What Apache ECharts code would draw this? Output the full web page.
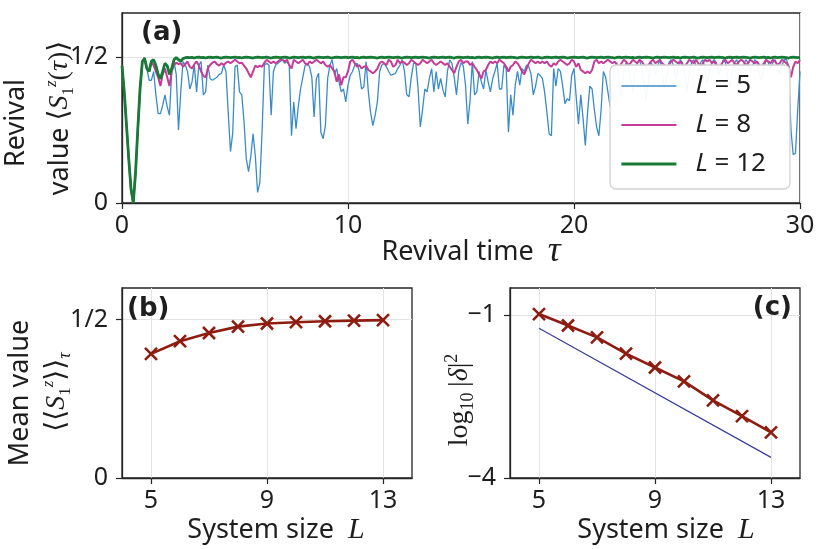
<!DOCTYPE html>
<html><head><meta charset="utf-8">
<script src="https://cdn.jsdelivr.net/npm/echarts@6/dist/echarts.min.js"></script>
<style>html,body{margin:0;padding:0;background:#fff}#c{width:831px;height:549px}</style>
</head><body><div id="c"></div><script>
// ---------- data ----------
const tauStep = 0.1;            // sampling of the revival-time traces
const legendNames = ['L = 5', 'L = 8', 'L = 12'];
const revivalL5 = [
0.47,0.38,0.265,0.15,0.047,0.0,0.105,0.254,0.392,0.484,
0.498,0.46,0.42,0.42,0.45,0.37,0.306,0.306,0.334,0.37,
0.33,0.30,0.45,0.484,0.44,0.25,0.38,0.484,0.472,0.45,
0.39,0.415,0.472,0.38,0.472,0.484,0.37,0.38,0.472,0.425,
0.42,0.425,0.43,0.44,0.443,0.472,0.45,0.31,0.176,0.24,
0.466,0.472,0.38,0.37,0.277,0.15,0.107,0.16,0.237,0.16,
0.036,0.07,0.25,0.472,0.478,0.472,0.30,0.45,0.472,0.478,
0.484,0.49,0.478,0.484,0.472,0.23,0.345,0.254,0.33,0.39,
0.43,0.47,0.478,0.466,0.43,0.294,0.426,0.444,0.242,0.22,
0.265,0.426,0.472,0.49,0.44,0.46,0.415,0.38,0.39,0.346,
0.403,0.437,0.45,0.472,0.478,0.45,0.39,0.397,0.484,0.38,
0.31,0.265,0.30,0.346,0.45,0.472,0.478,0.466,0.45,0.437,
0.44,0.444,0.46,0.472,0.49,0.45,0.37,0.363,0.43,0.478,
0.478,0.392,0.26,0.32,0.39,0.38,0.426,0.46,0.38,0.45,
0.39,0.426,0.387,0.363,0.45,0.49,0.478,0.43,0.37,0.45,
0.48,0.47,0.403,0.27,0.35,0.484,0.37,0.38,0.45,0.415,
0.39,0.455,0.415,0.38,0.425,0.45,0.478,0.39,0.39,0.472,
0.46,0.242,0.37,0.30,0.403,0.45,0.403,0.46,0.45,0.472,
0.466,0.44,0.37,0.40,0.443,0.437,0.426,0.38,0.31,0.237,
0.23,0.46,0.40,0.46,0.45,0.40,0.34,0.357,0.35,0.437,
0.46,0.36,0.27,0.37,0.29,0.197,0.31,0.40,0.39,0.32,
0.26,0.23,0.32,0.45,0.43,0.38,0.33,0.40,0.46,0.48,
0.42,0.36,0.44,0.48,0.47,0.43,0.38,0.45,0.48,0.49,
0.46,0.41,0.35,0.42,0.48,0.47,0.44,0.47,0.49,0.45,
0.39,0.43,0.48,0.49,0.47,0.42,0.46,0.49,0.48,0.44,
0.38,0.44,0.48,0.49,0.47,0.45,0.48,0.49,0.46,0.41,
0.45,0.48,0.49,0.48,0.44,0.46,0.49,0.48,0.43,0.40,
0.45,0.48,0.49,0.47,0.44,0.47,0.49,0.48,0.45,0.47,
0.49,0.48,0.44,0.42,0.46,0.49,0.48,0.46,0.48,0.49,
0.47,0.44,0.47,0.49,0.49,0.47,0.25,0.165,0.17,0.32,
0.45];
const revivalL8 = [
0.47,0.38,0.265,0.15,0.047,0.0,0.105,0.254,0.392,0.484,
0.495,0.46,0.45,0.485,0.47,0.45,0.43,0.40,0.44,0.46,
0.43,0.40,0.45,0.472,0.48,0.475,0.478,0.466,0.475,0.484,
0.466,0.46,0.475,0.484,0.47,0.45,0.435,0.43,0.46,0.472,
0.48,0.484,0.475,0.47,0.478,0.472,0.48,0.484,0.478,0.484,
0.49,0.484,0.478,0.48,0.47,0.46,0.445,0.43,0.45,0.47,
0.465,0.47,0.466,0.48,0.49,0.484,0.478,0.484,0.478,0.484,
0.49,0.49,0.484,0.49,0.472,0.46,0.49,0.484,0.478,0.484,
0.49,0.478,0.472,0.484,0.478,0.484,0.49,0.484,0.478,0.484,
0.472,0.466,0.472,0.46,0.45,0.415,0.44,0.403,0.43,0.43,
0.45,0.484,0.49,0.478,0.466,0.472,0.46,0.466,0.47,0.455,
0.45,0.444,0.45,0.46,0.478,0.484,0.478,0.472,0.49,0.484,
0.466,0.472,0.49,0.478,0.484,0.48,0.472,0.478,0.49,0.484,
0.478,0.472,0.478,0.49,0.484,0.478,0.484,0.49,0.478,0.472,
0.478,0.484,0.478,0.472,0.478,0.466,0.455,0.444,0.466,0.484,
0.49,0.478,0.484,0.484,0.472,0.478,0.466,0.455,0.44,0.426,
0.45,0.455,0.472,0.484,0.478,0.484,0.478,0.49,0.484,0.478,
0.466,0.45,0.466,0.472,0.484,0.478,0.466,0.45,0.44,0.46,
0.478,0.49,0.484,0.478,0.484,0.478,0.484,0.478,0.484,0.472,
0.466,0.478,0.472,0.484,0.49,0.484,0.478,0.472,0.478,0.49,
0.484,0.466,0.478,0.455,0.45,0.444,0.45,0.444,0.455,0.484,
0.49,0.478,0.484,0.478,0.484,0.49,0.484,0.478,0.484,0.472,
0.466,0.478,0.49,0.484,0.472,0.478,0.49,0.484,0.478,0.49,
0.484,0.472,0.466,0.472,0.484,0.49,0.478,0.484,0.49,0.478,
0.472,0.466,0.472,0.484,0.49,0.484,0.478,0.484,0.472,0.466,
0.478,0.49,0.484,0.478,0.49,0.478,0.466,0.478,0.49,0.484,
0.49,0.478,0.484,0.472,0.466,0.472,0.484,0.49,0.478,0.484,
0.49,0.478,0.472,0.484,0.49,0.484,0.472,0.478,0.49,0.484,
0.478,0.484,0.472,0.466,0.478,0.49,0.484,0.478,0.49,0.484,
0.472,0.478,0.49,0.484,0.478,0.466,0.43,0.466,0.484,0.478,
0.49];
const revivalL12 = [
0.47,0.38,0.265,0.15,0.047,0.0,0.105,0.254,0.392,0.484,
0.495,0.46,0.45,0.485,0.49,0.47,0.44,0.425,0.45,0.478,
0.47,0.44,0.46,0.49,0.498,0.49,0.485,0.494,0.497,0.498,
0.497,0.498,0.496,0.498,0.499,0.497,0.498,0.496,0.498,0.499,
0.497,0.498,0.499,0.497,0.496,0.498,0.499,0.498,0.497,0.498,
0.499,0.497,0.498,0.496,0.498,0.499,0.498,0.497,0.496,0.498,
0.499,0.498,0.497,0.498,0.499,0.497,0.496,0.498,0.499,0.498,
0.497,0.498,0.499,0.498,0.496,0.497,0.499,0.498,0.497,0.498,
0.499,0.497,0.498,0.499,0.497,0.496,0.498,0.499,0.498,0.497,
0.498,0.499,0.497,0.496,0.498,0.499,0.498,0.497,0.498,0.499,
0.497,0.498,0.499,0.497,0.498,0.496,0.498,0.499,0.497,0.498,
0.499,0.498,0.497,0.496,0.498,0.499,0.497,0.498,0.499,0.498,
0.497,0.498,0.499,0.497,0.496,0.498,0.499,0.498,0.497,0.498,
0.499,0.497,0.498,0.499,0.498,0.497,0.496,0.498,0.499,0.498,
0.497,0.498,0.499,0.497,0.498,0.499,0.497,0.496,0.498,0.499,
0.498,0.497,0.498,0.499,0.497,0.498,0.496,0.498,0.499,0.497,
0.498,0.499,0.498,0.497,0.496,0.498,0.499,0.497,0.498,0.499,
0.497,0.498,0.499,0.498,0.497,0.496,0.498,0.499,0.498,0.497,
0.498,0.499,0.497,0.498,0.499,0.497,0.496,0.498,0.499,0.498,
0.497,0.498,0.499,0.497,0.498,0.499,0.498,0.496,0.497,0.498,
0.499,0.498,0.497,0.498,0.499,0.497,0.496,0.498,0.499,0.498,
0.497,0.498,0.499,0.497,0.498,0.499,0.498,0.497,0.496,0.498,
0.499,0.497,0.498,0.499,0.498,0.497,0.498,0.496,0.498,0.499,
0.497,0.498,0.499,0.498,0.497,0.496,0.498,0.499,0.497,0.498,
0.499,0.498,0.497,0.498,0.499,0.497,0.498,0.496,0.498,0.499,
0.498,0.497,0.498,0.499,0.497,0.496,0.498,0.499,0.498,0.497,
0.498,0.499,0.497,0.498,0.499,0.498,0.497,0.496,0.498,0.499,
0.497,0.498,0.499,0.497,0.498,0.499,0.498,0.497,0.496,0.498,
0.499,0.498,0.497,0.498,0.499,0.497,0.498,0.496,0.498,0.499,
0.497,0.498,0.499,0.498,0.497,0.496,0.498,0.499,0.498,0.497,
0.498];
const tauTicks = [0, 10, 20, 30];
const revivalTicks = [0, 0.5];
const revivalTickLabels = ['0', '1/2'];
const sizes = [5, 6, 7, 8, 9, 10, 11, 12, 13];
const meanRevival = [0.392, 0.432, 0.458, 0.478, 0.488, 0.492, 0.495, 0.497, 0.4985];
const logDelta = [-0.98, -1.19, -1.41, -1.71, -1.965, -2.22, -2.57, -2.86, -3.16];
const fitSizes = [5, 13];
const fitLogDelta = [-1.24, -3.62];
const sizeTicks = [5, 9, 13];
const deltaTicks = [-4, -1];
const deltaTickLabels = ['\u22124', '\u22121'];

// ---------- styles ----------
const SANS = '"Noto Sans", "Open Sans", sans-serif';
const SERIF = '"Liberation Serif", "DejaVu Serif", serif';
const FRAME = '#262626', GRIDC = '#e3e3e3', TXT = '#1e1e1e';
const C5 = '#3a8bc9', C8 = '#c43b98', C12 = '#177a36', BROWN = '#8e1c10', NAVY = '#3b3c9e';
const XSYM = 'path://M0,0L10,10M10,0L0,10';

const tau = revivalL5.map((_, i) => +(i * tauStep).toFixed(1));
const pairs = (xs, ys) => ys.map((y, i) => [xs[i], y]);

function xAx(gi, min, max, extra) {
  return Object.assign({
    gridIndex: gi, type: 'value', min: min, max: max,
    axisLine: { show: true, onZero: false, lineStyle: { color: FRAME, width: 1.3 } },
    axisTick: { show: true, length: 6, lineStyle: { color: FRAME, width: 1.2 } },
    axisLabel: { fontSize: 25, fontFamily: SANS, color: TXT, margin: 10 },
    splitLine: { show: true, lineStyle: { color: GRIDC, width: 1 } }
  }, extra);
}
function yAx(gi, min, max, ticks, labels) {
  return {
    gridIndex: gi, type: 'value', min: min, max: max,
    axisLine: { show: true, onZero: false, lineStyle: { color: FRAME, width: 1.3 } },
    axisTick: { show: true, length: 6, customValues: ticks, lineStyle: { color: FRAME, width: 1.2 } },
    axisLabel: { fontSize: 25, fontFamily: SANS, color: TXT, margin: 14, customValues: ticks,
      formatter: v => { const k = ticks.findIndex(t => Math.abs(t - v) < 1e-9); return k >= 0 ? labels[k] : ''; } },
    splitLine: { show: true, lineStyle: { color: GRIDC, width: 1 } }
  };
}

const mathRich = {
  r: { fontFamily: SANS, fontSize: 27, color: TXT, lineHeight: 34 },
  m: { fontFamily: SERIF, fontSize: 28, color: TXT, lineHeight: 34 },
  mi: { fontFamily: SERIF, fontSize: 28, fontStyle: 'italic', color: TXT, lineHeight: 34 },
  sup: { fontFamily: SERIF, fontSize: 17, fontStyle: 'italic', color: TXT, lineHeight: 17, verticalAlign: 'top' },
  sub: { fontFamily: SERIF, fontSize: 17, color: TXT, lineHeight: 17, verticalAlign: 'bottom' },
  subi: { fontFamily: SERIF, fontSize: 18, fontStyle: 'italic', color: TXT, lineHeight: 17, verticalAlign: 'bottom' },
  big: { fontFamily: SERIF, fontSize: 36, fontStyle: 'italic', color: TXT, lineHeight: 34 },
  L: { fontFamily: SERIF, fontSize: 30, fontStyle: 'italic', color: TXT, lineHeight: 34 }
};
function txt(x, y, text, opt) {
  return Object.assign({ type: 'text', x: x, y: y, z: 50,
    style: Object.assign({ text: text, fill: TXT, fontFamily: SANS, fontSize: 27,
      align: 'center', verticalAlign: 'middle', rich: mathRich }, opt && opt.style) },
    opt && opt.el);
}
const R90 = { el: { rotation: Math.PI / 2 } };
const logRich = {
  g: { fontFamily: SERIF, fontSize: 28, color: TXT, lineHeight: 34 },
  gi: { fontFamily: SERIF, fontSize: 28, fontStyle: 'italic', color: TXT, lineHeight: 34 },
  s: { fontFamily: SERIF, fontSize: 18, color: TXT, lineHeight: 17, verticalAlign: 'bottom' },
  p: { fontFamily: SERIF, fontSize: 18, color: TXT, lineHeight: 17, verticalAlign: 'top' }
};

const option = {
  animation: false,
  backgroundColor: '#ffffff',
  grid: [
    { left: 122, top: 13, width: 678, height: 190, show: true, borderColor: FRAME, borderWidth: 1.3 },
    { left: 122, top: 288, width: 290, height: 190, show: true, borderColor: FRAME, borderWidth: 1.3 },
    { left: 510, top: 288, width: 290, height: 190, show: true, borderColor: FRAME, borderWidth: 1.3 }
  ],
  xAxis: [
    xAx(0, 0, 30, { interval: 10 }),
    xAx(1, 4, 14, { axisTick: { show: true, length: 6, customValues: sizeTicks, lineStyle: { color: FRAME, width: 1.2 } },
                    axisLabel: { fontSize: 25, fontFamily: SANS, color: TXT, margin: 10, customValues: sizeTicks } }),
    xAx(2, 4, 14, { axisTick: { show: true, length: 6, customValues: sizeTicks, lineStyle: { color: FRAME, width: 1.2 } },
                    axisLabel: { fontSize: 25, fontFamily: SANS, color: TXT, margin: 10, customValues: sizeTicks } })
  ],
  yAxis: [
    yAx(0, 0, 0.65, revivalTicks, revivalTickLabels),
    yAx(1, 0, 0.6, revivalTicks, revivalTickLabels),
    yAx(2, -4, -0.5, deltaTicks, deltaTickLabels)
  ],
  legend: {
    data: legendNames, orient: 'vertical', left: 610, top: 65,
    padding: [8, 24, 12, 10], itemGap: 13, itemWidth: 55, itemHeight: 14,
    backgroundColor: 'rgba(255,255,255,0.95)', borderColor: '#d2d2d2', borderWidth: 1.3, borderRadius: 6,
    lineStyle: { width: 'inherit' },
    itemStyle: { opacity: 0, color: 'rgba(0,0,0,0)', borderColor: 'rgba(0,0,0,0)', borderWidth: 0 },
    formatter: name => '{i|L}{t| = ' + name.split('=')[1].trim() + '}',
    textStyle: { fontSize: 26, fontFamily: SANS, color: TXT, lineHeight: 26, padding: [0, 0, 0, 14],
      rich: { i: { fontSize: 26, fontFamily: SANS, fontStyle: 'italic', color: TXT },
              t: { fontSize: 26, fontFamily: SANS, color: TXT } } }
  },
  series: [
    { name: legendNames[0], type: 'line', xAxisIndex: 0, yAxisIndex: 0, data: pairs(tau, revivalL5),
      symbol: 'none', lineStyle: { color: C5, width: 1.3 }, itemStyle: { color: C5 }, z: 2 },
    { name: legendNames[1], type: 'line', xAxisIndex: 0, yAxisIndex: 0, data: pairs(tau, revivalL8),
      symbol: 'none', lineStyle: { color: C8, width: 2 }, itemStyle: { color: C8 }, z: 3 },
    { name: legendNames[2], type: 'line', xAxisIndex: 0, yAxisIndex: 0, data: pairs(tau, revivalL12),
      symbol: 'none', lineStyle: { color: C12, width: 2.8 }, itemStyle: { color: C12 }, z: 4 },
    { name: 'mean', type: 'line', xAxisIndex: 1, yAxisIndex: 1, data: pairs(sizes, meanRevival),
      symbol: XSYM, symbolSize: 12, lineStyle: { color: BROWN, width: 2.6 },
      itemStyle: { color: BROWN, borderColor: BROWN, borderWidth: 2.6 }, z: 3 },
    { name: 'fit', type: 'line', xAxisIndex: 2, yAxisIndex: 2, data: pairs(fitSizes, fitLogDelta),
      symbol: 'none', lineStyle: { color: NAVY, width: 1.2 }, z: 2 },
    { name: 'delta', type: 'line', xAxisIndex: 2, yAxisIndex: 2, data: pairs(sizes, logDelta),
      symbol: XSYM, symbolSize: 12, lineStyle: { color: BROWN, width: 2.6 },
      itemStyle: { color: BROWN, borderColor: BROWN, borderWidth: 2.6 }, z: 3 }
  ],
  graphic: [
    txt(16, 123, 'Revival', R90),
    txt(60, 118, '{r|value }{m|\u27E8}{mi|S}{sub|1}{sup|z}{m|(}{mi|\u03C4}{m|)\u27E9}', R90),
    txt(141, 33, '(a)', { style: { align: 'left', fontFamily: '"DejaVu Sans", sans-serif', fontWeight: 'bold', fontSize: 26 } }),
    txt(471, 252, '{r|Revival time  }{big|\u03C4}'),
    txt(20, 393, 'Mean value', R90),
    txt(57, 392, '{m|\u27E8\u27E8}{mi|S}{sub|1}{sup|z}{m|\u27E9\u27E9}{subi|\u03C4}', R90),
    txt(127, 309, '(b)', { style: { align: 'left', fontFamily: '"DejaVu Sans", sans-serif', fontWeight: 'bold', fontSize: 26 } }),
    txt(276, 530, '{r|System size  }{L|L}'),
    txt(460, 400, '{g|log}{s|10}{g|\u2009|}{gi|\u03B4}{g||}{p|2}', { el: { rotation: Math.PI / 2 }, style: { rich: logRich } }),
    txt(792, 308, '(c)', { style: { align: 'right', fontFamily: '"DejaVu Sans", sans-serif', fontWeight: 'bold', fontSize: 26 } }),
    txt(666, 530, '{r|System size  }{L|L}')
  ]
};
const chart = echarts.init(document.getElementById('c'), null, { renderer: 'canvas' });
chart.setOption(option);
</script></body></html>
